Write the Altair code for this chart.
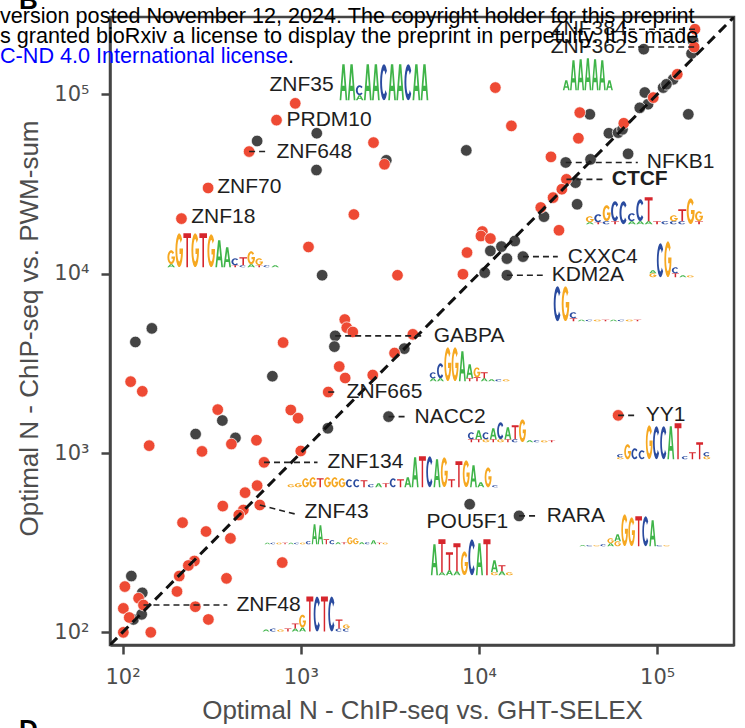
import math
import altair as alt
import pandas as pd

# ---------------- data ----------------
red_x = [163000, 161400, 129700, 95100, 36800, 12360, 15210, 25360, 36150, 65000,
         30970, 29190, 26060, 22230, 28120, 10450, 10260, 11590, 8570, 8130, 3490,
         931, 731, 513, 2560, 2950, 302, 1986, 214, 1105, 111, 129, 141, 342, 408,
         279, 564, 796, 1766, 1812, 1959, 4256, 3360, 1644, 1775, 2535, 1426, 879,
         966, 1000, 622, 569, 487, 60400, 365, 476, 449, 589, 217, 294, 403, 787,
         253, 234, 208, 383, 202, 256, 303, 103, 123, 131, 101, 109, 101, 144]
red_y = [230700, 183600, 129400, 95900, 79100, 109100, 66700, 44800, 56900, 69000,
         33570, 29570, 26560, 23390, 17460, 17180, 16220, 15700, 13120, 9930, 9800,
         89100, 71800, 47970, 53830, 40740, 30060, 21380, 20280, 14090, 2500, 2208,
         1099, 1746, 1122, 1021, 1178, 4130, 5550, 5000, 4730, 4590, 3610, 3035,
         2620, 2722, 2188, 1738, 1564, 1026, 887, 658, 601, 1622, 506, 481, 451,
         513, 409, 365, 334, 245, 250, 236, 206, 200, 169, 139, 118, 180, 155, 142,
         136, 121, 100, 100]
gray_x = [159200, 156000, 84100, 123000, 108100, 112700, 85300, 88900, 79900, 41900,
          149600, 8490, 30700, 42300, 68700, 53600, 60400, 63900, 34820, 23170,
          35560, 15890, 13370, 11590, 14350, 17660, 14350, 10770, 1230, 569, 3020,
          1225, 1318, 146, 118, 257, 363, 430, 693, 1560, 3810, 1545, 3110, 1419,
          8870, 16790, 112, 129, 115, 128]
gray_y = [198600, 169000, 178600, 121300, 109100, 113700, 102400, 88100, 84100, 77400,
          77400, 48700, 41700, 43400, 46600, 60700, 61200, 63800, 32200, 20800,
          24380, 15210, 14160, 13400, 12140, 12450, 9800, 10140, 60700, 54950, 42860,
          37840, 9800, 4954, 4160, 1276, 1518, 1214, 2680, 4500, 3820, 3920, 1596,
          1374, 518, 446, 206, 166, 118, 126]

label_text = ["ZNF384", "ZNF362", "ZNF35", "PRDM10", "ZNF648", "ZNF70", "ZNF18",
              "NFKB1", "CXXC4", "KDM2A", "GABPA", "ZNF665", "NACC2", "YY1",
              "ZNF134", "ZNF43", "POU5F1", "RARA", "ZNF48"]
label_x = [25300, 25300, 667, 832, 730, 340, 243, 87500, 31500, 25600, 5570, 1807,
           4350, 86400, 1413, 1050, 5080, 24000, 436]
label_y = [230700, 183600, 112500, 71800, 47970, 30340, 20650, 41700, 12450, 9800,
           4500, 2188, 1596, 1622, 887, 467, 411, 446, 142]
bold_text = ["CTCF"]
bold_x = [55600]
bold_y = [33570]

lead_x = [163000, 161400, 513, 30700, 30970, 17660, 14350, 1560, 1426, 3110, 60400,
          622, 589, 16790, 131]
lead_y = [230700, 183600, 47970, 41700, 33570, 12450, 9800, 4500, 2188, 1596, 1622,
          887, 513, 446, 142]
lead_x2 = [67500, 67500, 650, 77900, 49500, 27700, 22800, 4950, 1590, 3830, 76900,
           1242, 946, 21100, 387]
lead_y2 = [230700, 183600, 47970, 41700, 33570, 12450, 9800, 4500, 2188, 1596, 1622,
           887, 455, 446, 142]

# sequence logos: anchor (left, bottom) and columns of letter heights (bottom first)
logo_x = [1648, 29500, 178, 39700, 90200, 26200, 5280, 8650, 59400, 841, 625, 5360,
          36500, 609]
logo_y = [92700, 105400, 10860, 18870, 9550, 5430, 2510, 1148, 923, 644, 310, 208,
          302, 101]
logo_seq = [
    "A36 A36 a5/c10 A36 A36 C36 A36 A36 C36 A36 A36",
    "a10 A30 A31 A32 A31 A30 a10",
    "a3/g14 G34 T34 G34 T34 G33 A27 A20 t2/c7 c2/t8 a3/G13 t2/g7 c2 a2",
    "a2/g6 t2/c8 c3/G16 t3/C20 C23 a3/c8 a3/C22 a3/T24 t3 c3 c3/g6 c3/T12 G26 t3/g10",
    "g4/a3 C34 G36 t4/c6 a2 g2",
    "C35 G35 t3/c6 a1.5 c1.5 g1.5 t1.5 a1.5 c1.5 g1.5 t1.5",
    "a3/c6 a3/C15 G34 G34 A30 t3/A14 t4/G10 a3/T6 a2 c2 g2",
    "t3/c7 t3/A9 g3/c7 t3/A11 g3/C17 t3/A12 c3/T14 G23 a2 c2 g2 t2",
    "g2/c3 G15 C11 c9 G34 C33 C33 A33 T36 c3 t7 T17 g3/c4",
    "g3 g4 G9 G10 T9 G10 G10 G9 C8 C8 T7 c3 A4 t4 C9 T8 A10 A30 T31 C31 A28 G30 t8 T26 G27 A22 a5 G20 c2",
    "a1.5 c1.5 g1.5 t1.5 a1.5 c1.5 g1.5 c3 A20 A19 t5 c4 a2 t2 g7 g6 a2 c2 a4 t1.5 g1.5",
    "A31 a3/T33 a5/T18 a4/T28 G24 C36 A32 T36 g3/A12 a4/t6 g3",
    "a1 c1 g1 c2 a3/g5 g5/A7 G32 G29 T30 C30 A26 c1 g1",
    "a2 c3 g2 t3 a3/t5 a4/G13 T35 C35 T35 C35 c3/T9 c3/g4",
]

# ---------------- layout / style ----------------
XMIN, XMAX = 85, 270000
W, H = 624, 628
PPD_X = W / math.log10(XMAX / XMIN)
PPD_Y = H / math.log10(XMAX / XMIN)
LOGO_COL_W = [8.1, 7.2, 8.0, 8.4, 7.5, 8.0, 7.3, 7.3, 7.2, 7.3, 5.9, 7.5, 7.0, 7.3]
BASE_COLORS = {"A": "#3fb449", "C": "#2a4b9f", "G": "#f6a821", "T": "#d6262d"}
RED, GRAY = "#ee4a34", "#444444"
TXT = "#1e1e1e"
AXC = "#4d4d4d"


def _area(p):
    return sum(x1 * y2 - x2 * y1 for (x1, y1), (x2, y2) in zip(p, p[1:] + p[:1]))


def _orient(p, positive=True):
    return p if (_area(p) > 0) == positive else p[::-1]


def _arc(rx, ry, t0, t1, n=16):
    out = []
    for k in range(n + 1):
        t = math.radians(t0 + (t1 - t0) * k / n)
        out.append((rx * math.cos(t), ry * math.sin(t)))
    return out


def _ginner_start():
    t = math.degrees(math.asin(0.22 / 0.66))
    return t


SHAPES = {
    "T": [(_orient([(-1, -1), (1, -1), (1, -0.72), (0.21, -0.72), (0.21, 1),
                    (-0.21, 1), (-0.21, -0.72), (-1, -0.72)]), True)],
    "A": [(_orient([(-1, 1), (-0.3, -1), (0.3, -1), (1, 1), (0.56, 1), (0.38, 0.48),
                    (-0.38, 0.48), (-0.56, 1)]), True),
          (_orient([(-0.26, 0.2), (0.26, 0.2), (0, -0.56)], False), False)],
    "C": [(_orient(_arc(1, 1, 40, 320) + _arc(0.5, 0.66, 320, 40)), True)],
    "G": [(_orient(_arc(1, 1, 320, 0) + [(1, -0.1), (0.08, -0.1), (0.08, 0.22)]
                   + _arc(0.5, 0.66, _ginner_start(), 320)), True)],
}


def letter_path(base, r):
    parts = []
    for pts, _ in SHAPES[base]:
        parts.append("M" + "L".join(f"{x * r:.3f},{y:.3f}" for x, y in pts) + "Z")
    return "".join(parts)


rows = []
for ax, ay, cw, seq in zip(logo_x, logo_y, LOGO_COL_W, logo_seq):
    for i, col in enumerate(seq.split()):
        cum = 0.0
        for tok in col.split("/"):
            base, h = tok[0].upper(), float(tok[1:])
            dx = (i + 0.5) * cw
            dy = cum + h / 2
            rows.append({
                "x": ax * 10 ** (dx / PPD_X),
                "y": ay * 10 ** (dy / PPD_Y),
                "shape": letter_path(base, 0.95 * cw / h),
                "size": h * h,
                "color": BASE_COLORS[base],
            })
            cum += h
logo_df = pd.DataFrame(rows)

points_df = pd.DataFrame({
    "x": gray_x + red_x,
    "y": gray_y + red_y,
    "grp": ["g"] * len(gray_x) + ["r"] * len(red_x),
})
diag_df = pd.DataFrame({"x": [XMIN, XMAX], "y": [XMIN, XMAX]})
lead_df = pd.DataFrame({"x": lead_x, "y": lead_y, "x2": lead_x2, "y2": lead_y2})
lab_df = pd.DataFrame({"t": label_text, "x": label_x, "y": label_y})
bold_df = pd.DataFrame({"t": bold_text, "x": bold_x, "y": bold_y})

xs = alt.Scale(type="log", domain=[XMIN, XMAX], nice=False)
ys = alt.Scale(type="log", domain=[XMIN, XMAX], nice=False)
sup = ("datum.value == 100 ? '10\u00b2' : datum.value == 1000 ? '10\u00b3' : "
       "datum.value == 10000 ? '10\u2074' : '10\u2075'")
common_axis = dict(values=[100, 1000, 10000, 100000], labelExpr=sup, grid=False,
                   tickSize=9, tickWidth=2.5, tickColor="#444", domainColor="#444",
                   domainWidth=2.5, labelFont="DejaVu Sans", labelFontSize=21,
                   labelColor=AXC, labelPadding=12, titleFont="Liberation Sans",
                   titleFontSize=26, titleFontWeight="normal", titleColor=AXC,
                   titleBaseline="alphabetic")
xaxis = alt.Axis(title="Optimal N - ChIP-seq vs. GHT-SELEX", titleY=73, **common_axis)
yaxis = alt.Axis(title="Optimal N - ChIP-seq vs. PWM-sum", titleX=-73, titleY=311,
                 **common_axis)

points = alt.Chart(points_df).mark_circle(size=135, opacity=1, stroke="white",
                                          strokeWidth=0.7).encode(
    x=alt.X("x:Q", scale=xs, axis=xaxis),
    y=alt.Y("y:Q", scale=ys, axis=yaxis),
    color=alt.Color("grp:N", scale=alt.Scale(domain=["g", "r"], range=[GRAY, RED]),
                    legend=None),
)
diag = alt.Chart(diag_df).mark_line(color="#111", strokeWidth=3, strokeDash=[10, 6],
                                    clip=True).encode(
    x=alt.X("x:Q", scale=xs), y=alt.Y("y:Q", scale=ys))
leaders = alt.Chart(lead_df).mark_rule(color="#222", strokeWidth=1.6,
                                       strokeDash=[6, 4]).encode(
    x=alt.X("x:Q", scale=xs), y=alt.Y("y:Q", scale=ys), x2="x2:Q", y2="y2:Q")
labels = alt.Chart(lab_df).mark_text(align="left", baseline="middle",
                                     font="Liberation Sans", fontSize=21,
                                     color=TXT).encode(
    x=alt.X("x:Q", scale=xs), y=alt.Y("y:Q", scale=ys), text="t:N")
labels_b = alt.Chart(bold_df).mark_text(align="left", baseline="middle",
                                        font="Liberation Sans", fontSize=21,
                                        fontWeight="bold", color=TXT).encode(
    x=alt.X("x:Q", scale=xs), y=alt.Y("y:Q", scale=ys), text="t:N")
logos = alt.Chart(logo_df).mark_point(filled=True, opacity=1, strokeWidth=0).encode(
    x=alt.X("x:Q", scale=xs), y=alt.Y("y:Q", scale=ys),
    shape=alt.Shape("shape:N", scale=None),
    size=alt.Size("size:Q", scale=None),
    color=alt.Color("color:N", scale=None),
)


def header(text, px, py, color="black", size=21.6, weight="normal"):
    return alt.Chart(alt.Data(values=[{}])).mark_text(
        text=text, align="left", baseline="alphabetic", font="Liberation Sans",
        fontSize=size, fontWeight=weight, color=color).encode(
        x=alt.value(px), y=alt.value(py))


hdr = [
    header("version posted November 12, 2024. The copyright holder for this preprint", -110, 6.3),
    header("s granted bioRxiv a license to display the preprint in perpetuity. It is made", -110, 25.7),
    header("C-ND 4.0 International license", -110, 46.3, color="#0000ff"),
    header(".", 178, 46.3),
    header("B", -91, -8.5, size=26, weight="bold"),
    header("D", -91, 720.6, size=26, weight="bold"),
]

chart = alt.layer(points, diag, leaders, labels, labels_b, logos, *hdr).properties(
    width=W, height=H,
    autosize=alt.AutoSizeParams(type="none"),
    padding={"left": 110, "top": 17, "right": 11, "bottom": 83},
).configure_view(stroke="#444", strokeWidth=2.5)

chart.save("out.html", embed_options={"renderer": "svg", "actions": False})
